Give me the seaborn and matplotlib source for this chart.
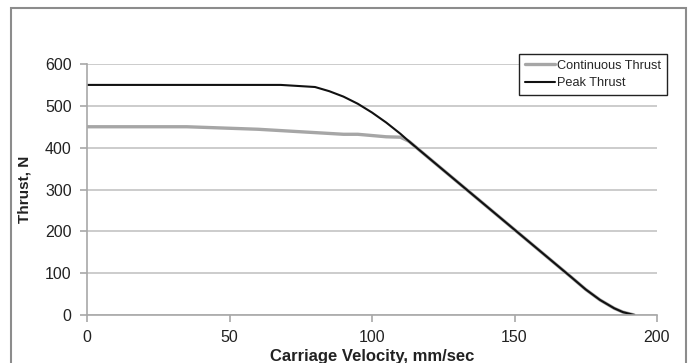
import numpy as np
import pandas as pd
import matplotlib
matplotlib.use("Agg")
import matplotlib.pyplot as plt
import seaborn as sns
from matplotlib.patches import Rectangle

# Thrust vs carriage velocity curves
peak_velocity = [0, 68, 80, 85, 90, 95, 100, 105, 110, 113, 120, 130, 140, 150,
                 160, 170, 175, 180, 185, 188, 192]
peak_thrust = [550, 550, 545, 535, 522, 505, 484, 460, 433, 415, 375, 318, 261,
               204, 147, 90, 61, 36, 16, 7, 0]

cont_velocity = [0, 35, 60, 70, 80, 90, 95, 100, 105, 110, 113, 120, 130, 140,
                 150, 160, 170, 175, 180, 185, 188, 192]
cont_thrust = [450, 450, 444, 440, 436, 432, 432, 429, 426, 425, 415, 375, 318,
               261, 204, 147, 90, 61, 36, 16, 7, 0]

series_names = ["Continuous Thrust", "Peak Thrust"]
x_ticks = [0, 50, 100, 150, 200]
y_ticks = [0, 100, 200, 300, 400, 500, 600]

df = pd.concat([
    pd.DataFrame({"v": cont_velocity, "T": cont_thrust, "s": series_names[0]}),
    pd.DataFrame({"v": peak_velocity, "T": peak_thrust, "s": series_names[1]}),
])

sns.set_style("white")
plt.rcParams["font.family"] = ["Liberation Sans", "DejaVu Sans"]

fig = plt.figure(figsize=(6.91, 3.63), dpi=100)
ax = fig.add_axes([87 / 691, 1 - 315 / 363, (657 - 87) / 691, (315 - 64) / 363])

palette = {series_names[0]: "#a6a6a6", series_names[1]: "#111111"}
sizes = {series_names[0]: 2.4, series_names[1]: 1.5}
sns.lineplot(data=df, x="v", y="T", hue="s", size="s", sizes=sizes,
             palette=palette, sort=False, estimator=None, ax=ax, legend=False)

ax.set_xlim(0, 200)
ax.set_ylim(0, 600)
ax.set_xticks(x_ticks)
ax.set_yticks(y_ticks)
ax.yaxis.grid(True, color="#c4c4c4", linewidth=1.2)
ax.xaxis.grid(False)
ax.set_axisbelow(True)

for side in ["top", "right"]:
    ax.spines[side].set_visible(False)
for side in ["left", "bottom"]:
    ax.spines[side].set_color("#a8a8a8")
    ax.spines[side].set_linewidth(1.2)

ax.tick_params(axis="both", which="major", direction="out", length=5, width=1.2,
               color="#a8a8a8", labelsize=11.5, labelcolor="#222222", pad=6,
               left=True, bottom=True)

ax.set_xlabel("Carriage Velocity, mm/sec", fontsize=12, fontweight="bold",
              color="#222222", labelpad=3)
ax.set_ylabel("Thrust, N", fontsize=11, fontweight="bold", color="#222222",
              labelpad=10)

handles = [plt.Line2D([], [], color=palette[n], linewidth=sizes[n]) for n in series_names]
leg = fig.legend(handles, series_names, loc="upper left",
                 bbox_to_anchor=(519 / 691, 1 - 54 / 363), fontsize=9.2,
                 frameon=True, fancybox=False, framealpha=1, edgecolor="#222222",
                 handlelength=2.4, handletextpad=0.15, borderpad=0.45,
                 labelspacing=0.42, borderaxespad=0)
leg.get_frame().set_linewidth(1.0)

# Outer chart border
fig.patches.append(Rectangle((11 / 691, -0.05), (686 - 11) / 691, 1.05 - 8 / 363,
                             transform=fig.transFigure, fill=False,
                             edgecolor="#8c8c8c", linewidth=1.5))

fig.savefig("out.png", dpi=100)
